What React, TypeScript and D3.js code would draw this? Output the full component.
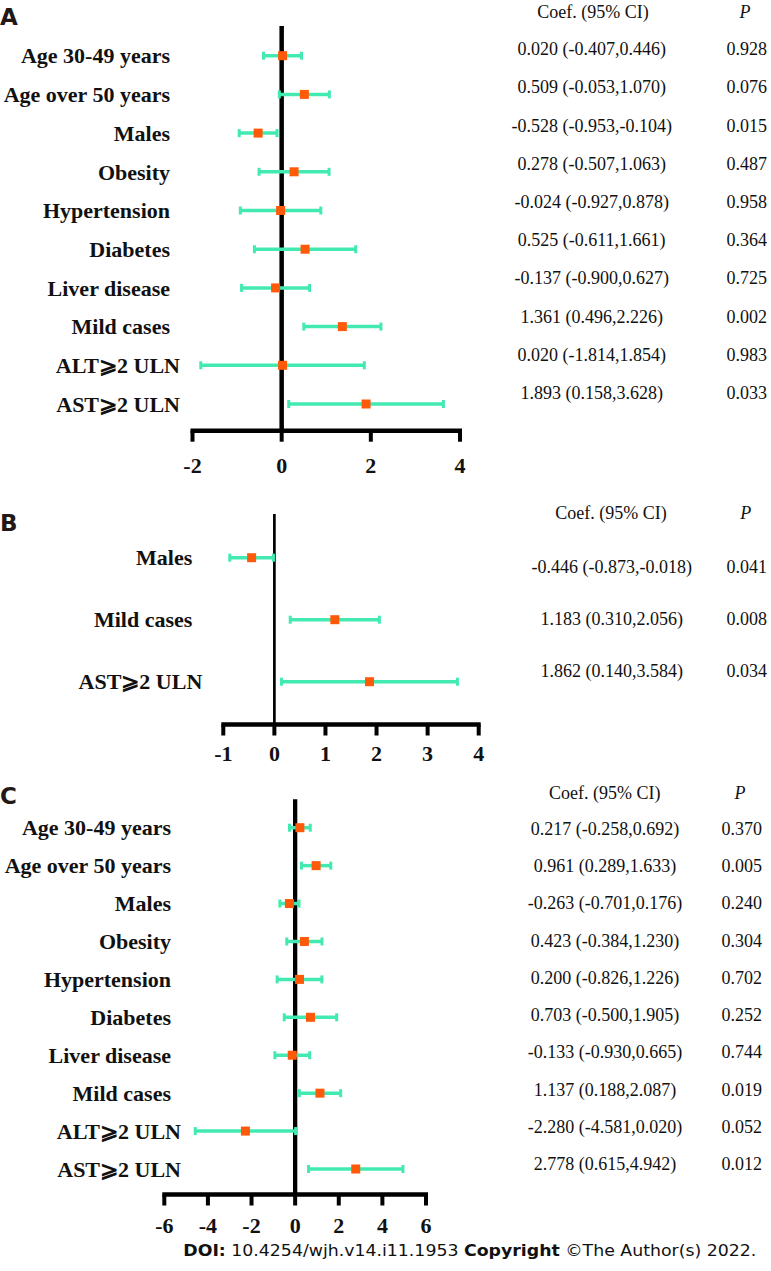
import React from "react";
import * as d3 from "d3";

// ---------- DATA ----------
const factorsA = ["Age 30-49 years", "Age over 50 years", "Males", "Obesity", "Hypertension", "Diabetes", "Liver disease", "Mild cases", "ALT⩾2 ULN", "AST⩾2 ULN"];
const coefA = [0.020, 0.509, -0.528, 0.278, -0.024, 0.525, -0.137, 1.361, 0.020, 1.893];
const lowerA = [-0.407, -0.053, -0.953, -0.507, -0.927, -0.611, -0.900, 0.496, -1.814, 0.158];
const upperA = [0.446, 1.070, -0.104, 1.063, 0.878, 1.661, 0.627, 2.226, 1.854, 3.628];
const pA = [0.928, 0.076, 0.015, 0.487, 0.958, 0.364, 0.725, 0.002, 0.983, 0.033];
const ticksA = [-2, 0, 2, 4];

const factorsB = ["Males", "Mild cases", "AST⩾2 ULN"];
const coefB = [-0.446, 1.183, 1.862];
const lowerB = [-0.873, 0.310, 0.140];
const upperB = [-0.018, 2.056, 3.584];
const pB = [0.041, 0.008, 0.034];
const ticksB = [-1, 0, 1, 2, 3, 4];

const factorsC = ["Age 30-49 years", "Age over 50 years", "Males", "Obesity", "Hypertension", "Diabetes", "Liver disease", "Mild cases", "ALT⩾2 ULN", "AST⩾2 ULN"];
const coefC = [0.217, 0.961, -0.263, 0.423, 0.200, 0.703, -0.133, 1.137, -2.280, 2.778];
const lowerC = [-0.258, 0.289, -0.701, -0.384, -0.826, -0.500, -0.930, 0.188, -4.581, 0.615];
const upperC = [0.692, 1.633, 0.176, 1.230, 1.226, 1.905, 0.665, 2.087, 0.020, 4.942];
const pC = [0.370, 0.005, 0.240, 0.304, 0.702, 0.252, 0.744, 0.019, 0.052, 0.012];
const ticksC = [-6, -4, -2, 0, 2, 4, 6];

const tableHeader = "Coef. (95% CI)";
const pHeader = "P";
const panelLetters = ["A", "B", "C"];
const footerDOI = "10.4254/wjh.v14.i11.1953";
const footerCopy = "©The Author(s) 2022.";

// ---------- STYLE ----------
const GREEN = "#42eab2";
const ORANGE = "#ff5a0a";
const SERIF = "'Liberation Serif', 'Times New Roman', serif";
const SANS = "'DejaVu Sans', Verdana, sans-serif";

const locale = d3.formatLocale({ decimal: ".", thousands: ",", grouping: [3], currency: ["$", ""], minus: "-" });
const f3 = locale.format(".3f");
const fTick = locale.format("d");

type Panel = {
  letter: string;
  letterY: number;
  factors: string[];
  coef: number[];
  lower: number[];
  upper: number[];
  p: number[];
  ticks: number[];
  xRange: [number, number];
  rowRange: [number, number];
  zeroTop: number;
  zeroW: number;
  axisY: number;
  tickLabelY: number;
  labelX: number;
  headerY: number;
  tableRange: [number, number];
  coefX: number;
  headerCoefX: number;
  pX: number;
  headerPX: number;
};

const panels: Panel[] = [
  {
    letter: panelLetters[0], letterY: 24.5,
    factors: factorsA, coef: coefA, lower: lowerA, upper: upperA, p: pA, ticks: ticksA,
    xRange: [192.5, 460], rowRange: [55.7, 404], zeroTop: 26, zeroW: 4.5, axisY: 430.7, tickLabelY: 465,
    labelX: 170, headerY: 11.7, tableRange: [49, 392.7], coefX: 591.7, headerCoefX: 593, pX: 746.7, headerPX: 745,
  },
  {
    letter: panelLetters[1], letterY: 530.7,
    factors: factorsB, coef: coefB, lower: lowerB, upper: upperB, p: pB, ticks: ticksB,
    xRange: [223.3, 478.7], rowRange: [557.7, 681.7], zeroTop: 514, zeroW: 2.7, axisY: 724.5, tickLabelY: 753,
    labelX: 192.3, headerY: 513, tableRange: [567, 671], coefX: 611.7, headerCoefX: 611, pX: 746.7, headerPX: 745.7,
  },
  {
    letter: panelLetters[2], letterY: 804,
    factors: factorsC, coef: coefC, lower: lowerC, upper: upperC, p: pC, ticks: ticksC,
    xRange: [164.3, 426], rowRange: [827.7, 1169], zeroTop: 799.3, zeroW: 4.3, axisY: 1194.5, tickLabelY: 1225.7,
    labelX: 171, headerY: 793, tableRange: [828.3, 1164], coefX: 605, headerCoefX: 604.7, pX: 741.7, headerPX: 740,
  },
];

function ForestPanel({ pn }: { pn: Panel }) {
  const ext = d3.extent(pn.ticks) as [number, number];
  const x = d3.scaleLinear().domain(ext).range(pn.xRange);
  const y = d3.scalePoint<string>().domain(pn.factors).range(pn.rowRange);
  const ty = d3.scalePoint<string>().domain(pn.factors).range(pn.tableRange);
  const sq = 9;
  const capH = 8;
  const tickLen = 11;
  return (
    <g>
      <text x={0} y={pn.letterY} fontFamily={SANS} fontWeight="bold" fontSize={23} fill="#231815">{pn.letter}</text>
      {/* zero line */}
      <line x1={x(0)} x2={x(0)} y1={pn.zeroTop} y2={pn.axisY} stroke="#000" strokeWidth={pn.zeroW} />
      {/* axis */}
      <line x1={x(ext[0]) - 2} x2={x(ext[1]) + 2} y1={pn.axisY} y2={pn.axisY} stroke="#000" strokeWidth={4.5} />
      {pn.ticks.map((t) => (
        <g key={t}>
          <line x1={x(t)} x2={x(t)} y1={pn.axisY} y2={pn.axisY + tickLen} stroke="#000" strokeWidth={4} />
          <text x={x(t)} y={pn.tickLabelY} dy="0.35em" textAnchor="middle" fontFamily={SERIF} fontWeight="bold" fontSize={22} fill="#111">{fTick(t)}</text>
        </g>
      ))}
      {/* rows */}
      {pn.factors.map((name, i) => {
        const yy = y(name) as number;
        const shift = name.includes("ULN") ? 10 : 0;
        return (
          <g key={name}>
            <text x={pn.labelX + shift} y={yy} dy="0.35em" textAnchor="end" fontFamily={SERIF} fontWeight="bold" fontSize={22} fill="#111">{name}</text>
            <line x1={x(pn.lower[i])} x2={x(pn.upper[i])} y1={yy} y2={yy} stroke={GREEN} strokeWidth={3.5} />
            <line x1={x(pn.lower[i])} x2={x(pn.lower[i])} y1={yy - capH / 2} y2={yy + capH / 2} stroke={GREEN} strokeWidth={3} />
            <line x1={x(pn.upper[i])} x2={x(pn.upper[i])} y1={yy - capH / 2} y2={yy + capH / 2} stroke={GREEN} strokeWidth={3} />
            <rect x={x(pn.coef[i]) - sq / 2} y={yy - sq / 2} width={sq} height={sq} fill={ORANGE} />
          </g>
        );
      })}
      {/* table */}
      <text x={pn.headerCoefX} y={pn.headerY} dy="0.35em" textAnchor="middle" fontFamily={SERIF} fontSize={18} fill="#111">{tableHeader}</text>
      <text x={pn.headerPX} y={pn.headerY} dy="0.35em" textAnchor="middle" fontFamily={SERIF} fontStyle="italic" fontSize={18} fill="#111">{pHeader}</text>
      {pn.factors.map((name, i) => {
        const yy = ty(name) as number;
        return (
          <g key={"t" + name}>
            <text x={pn.coefX} y={yy} dy="0.35em" textAnchor="middle" fontFamily={SERIF} fontSize={18} fill="#111">
              {`${f3(pn.coef[i])} (${f3(pn.lower[i])},${f3(pn.upper[i])})`}
            </text>
            <text x={pn.pX} y={yy} dy="0.35em" textAnchor="middle" fontFamily={SERIF} fontSize={18} fill="#111">{f3(pn.p[i])}</text>
          </g>
        );
      })}
    </g>
  );
}

export default function App() {
  return (
    <svg width={771} height={1271} style={{ position: "absolute", left: 0, top: 0, background: "#fff" }}>
      <rect x={0} y={0} width={771} height={1271} fill="#fff" />
      {panels.map((pn) => (
        <ForestPanel key={pn.letter} pn={pn} />
      ))}
      <text x={183.3} y={1250.5} dy="0.35em" fontFamily={SANS} fontSize={16} fill="#111" textLength={573} lengthAdjust="spacingAndGlyphs">
        <tspan fontWeight="bold">DOI:</tspan>
        <tspan>{` ${footerDOI} `}</tspan>
        <tspan fontWeight="bold">Copyright</tspan>
        <tspan>{` ${footerCopy}`}</tspan>
      </text>
    </svg>
  );
}
